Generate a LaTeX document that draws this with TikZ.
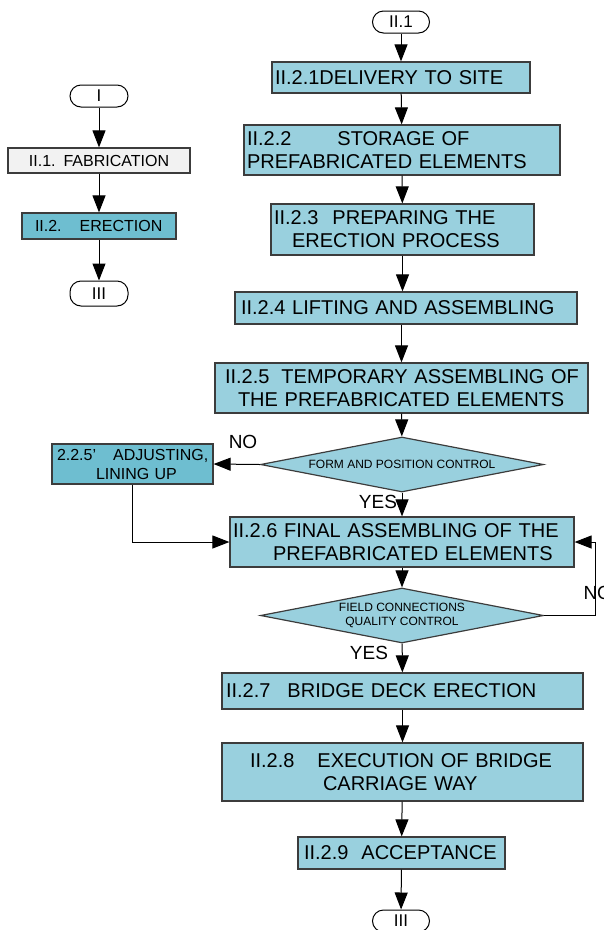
\documentclass[tikz,border=0pt]{standalone}
\usepackage{fontspec}
\setmainfont{Liberation Sans}
\usetikzlibrary{arrows.meta,shapes.geometric}

\definecolor{cajaazul}{HTML}{99D0DE}
\definecolor{cajaosc}{HTML}{6EBED0}
\definecolor{cajagris}{HTML}{F2F2F2}
\definecolor{borde}{HTML}{3C3C3C}

\begin{document}
\begin{tikzpicture}[x=1pt,y=-1pt,line width=1pt,>={Triangle[length=17pt,width=13pt]},
  caja/.style n args={2}{rectangle,draw=borde,line width=1.2pt,fill=cajaazul,inner xsep=3pt,inner ysep=0pt,
    minimum width=#1,minimum height=#2,text width=#1-6,align=left,font=\fontsize{20}{23}\selectfont},
  rombo/.style={diamond,aspect=5.1,draw=borde,line width=1.2pt,fill=cajaazul,minimum width=283,
    minimum height=55,inner sep=0pt,align=center,font=\fontsize{12}{14}\selectfont},
  term/.style n args={2}{rectangle,rounded corners=11pt,draw,fill=white,minimum width=#1,minimum height=#2,
    inner sep=0pt,font=\fontsize{17}{20}\selectfont},
  etiq/.style={inner sep=0pt,font=\fontsize{19}{22}\selectfont}]
  \useasboundingbox (0,0) rectangle (604,930);
  % columna izquierda
  \node[term={58}{22}] (tI) at (99,96) {I};
  \node[caja={182}{25},fill=cajagris,align=center,font=\fontsize{16}{19}\selectfont] (fab) at (99,160.5) {II.1. FABRICATION};
  \node[caja={154}{26},fill=cajaosc,font=\fontsize{16}{19}\selectfont] (ere) at (99,226) {\hspace*{10pt}II.2.\hspace{18pt}ERECTION};
  \node[term={58}{25}] (tIII) at (99,293.5) {III};
  \draw[->] (tI) -- (fab);
  \draw[->] (fab) -- (ere);
  \draw[->] (ere) -- (tIII);
  % columna principal
  \node[term={57}{22}] (t21) at (401,22) {II.1};
  \node[caja={258}{31}] (b1) at (401,77.5) {II.2.1DELIVERY TO SITE};
  \node[caja={316}{50}] (b2) at (402,150) {II.2.2\hspace{46pt}STORAGE OF\\PREFABRICATED ELEMENTS};
  \node[caja={263}{51}] (b3) at (402.5,229.5) {II.2.3\hspace{14pt}PREPARING THE\\\hspace*{18pt}ERECTION PROCESS};
  \node[caja={342}{32}] (b4) at (406,308) {\hspace*{3pt}II.2.4 LIFTING AND ASSEMBLING};
  \node[caja={373}{50}] (b5) at (401.5,388) {\hspace*{7pt}II.2.5\hspace{12pt}TEMPORARY ASSEMBLING OF\\\hspace*{20pt}THE PREFABRICATED ELEMENTS};
  \node[rombo] (d1) at (402,464.5) {FORM AND POSITION CONTROL};
  \node[caja={161}{40},fill=cajaosc,font=\fontsize{16}{19}\selectfont] (b25) at (132.5,464) {\hspace*{2pt}2.2.5'\hspace{17pt}ADJUSTING,\\\hspace*{41pt}LINING UP};
  \node[caja={344}{50}] (b6) at (402,542) {II.2.6 FINAL ASSEMBLING OF THE\\\hspace*{40pt}PREFABRICATED ELEMENTS};
  \node[rombo] (d2) at (402,615.5) {FIELD CONNECTIONS\\QUALITY CONTROL};
  \node[caja={361}{36}] (b7) at (402.5,691) {\hspace*{1pt}II.2.7\hspace{17pt}BRIDGE DECK ERECTION};
  \node[caja={361}{58}] (b8) at (402.5,772) {\hspace*{25pt}II.2.8\hspace{23pt}EXECUTION OF BRIDGE\\\hspace*{98pt}CARRIAGE WAY};
  \node[caja={207}{32}] (b9) at (401.5,853) {\hspace*{3pt}II.2.9\hspace{13pt}ACCEPTANCE};
  \node[term={57}{22}] (t3) at (401,921) {III};
  \coordinate (vuelta) at (595,615.5);
  % flechas
  \draw[->] (t21) -- (b1);
  \draw[->] (b1) -- (b2);
  \draw[->] (b2) -- (b3);
  \draw[->] (b3.south) -- (b3.south |- b4.north);
  \draw[->] (b4.south -| b5) -- (b5);
  \draw[->] (b5) -- (d1);
  \draw[->] (d1) -- (b6);
  \draw[->] (d1.west) -- (b25.east);
  \draw[->] (b25.south) |- (b6.west);
  \draw[->] (b6) -- (d2);
  \draw[->] (d2.east) -- (vuelta) |- (b6.east);
  \draw[->] (d2) -- (b7);
  \draw[->] (b7) -- (b8);
  \draw[->] (b8) -- (b9);
  \draw[->] (b9) -- (t3);
  % etiquetas de decision
  \node[etiq] (no1) at (243,442) {NO};
  \node[etiq] (si1) at (378,502) {YES};
  \node[etiq] (si2) at (369,653) {YES};
  \node[etiq,anchor=west] (no2) at (583,593) {NO};
\end{tikzpicture}
\end{document}
